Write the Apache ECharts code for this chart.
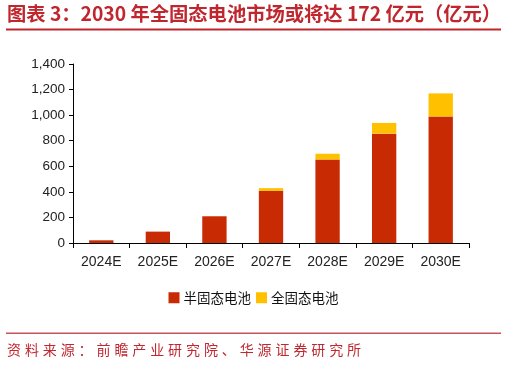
<!DOCTYPE html>
<html><head><meta charset="utf-8">
<script src="https://cdn.jsdelivr.net/npm/echarts@6/dist/echarts.min.js"></script>
<style>html,body{margin:0;padding:0;background:#fff}#c{width:507px;height:366px}</style>
</head><body><div id="c"></div>
<script>
const categories = ['2024E','2025E','2026E','2027E','2028E','2029E','2030E'];
const semiSolid = [21, 89, 209, 408, 653, 855, 990];
const allSolid = [0, 0, 0, 21, 45, 84, 180];
const yTicks = [0, 200, 400, 600, 800, 1000, 1200, 1400];
const titleText = '图表 3：2030 年全固态电池市场或将达 172 亿元（亿元）';
const sourceText = '资料来源：前瞻产业研究院、华源证券研究所';

const chart = echarts.init(document.getElementById('c'), null, {renderer:'canvas'});
const srcChars = sourceText.split('').map((ch, i) => ({
  type: 'text', left: 7 + i * 17.9, top: 343,
  style: { text: ch, fill: '#c0282f', font: '14px "Noto Sans CJK SC"' }
}));
chart.setOption({
  animation: false,
  textStyle: { fontFamily: '"Liberation Sans", Arial, sans-serif' },
  graphic: [
    { type: 'text', left: 7, top: 4, style: { text: titleText, fill: '#c0262d', font: 'bold 19.3px "Noto Sans CJK SC"' } },
    { type: 'rect', shape: { x: 6, y: 28.5, width: 495, height: 2 }, style: { fill: '#c0262d' } },
    { type: 'rect', shape: { x: 6, y: 332.5, width: 495, height: 1.5 }, style: { fill: '#c8545b' } },
    ...srcChars
  ],
  grid: { left: 73, right: 38, top: 64, bottom: 123 },
  legend: {
    data: ['半固态电池', '全固态电池'],
    left: 'center', top: 286,
    itemWidth: 11, itemHeight: 11, itemGap: 5,
    icon: 'rect',
    textStyle: { fontSize: 13.5, color: '#111', fontFamily: '"Noto Sans CJK SC"', padding: [0,0,0,-1] }
  },
  xAxis: {
    type: 'category', data: categories,
    axisLine: { lineStyle: { color: '#000', width: 1 } },
    axisTick: { show: true, length: 5, lineStyle: { color: '#000' } },
    axisLabel: { color: '#222', fontSize: 14, margin: 12 }
  },
  yAxis: {
    type: 'value', min: 0, max: 1400, interval: 200,
    axisLine: { show: true, lineStyle: { color: '#000', width: 1 } },
    axisTick: { show: true, length: 4, lineStyle: { color: '#000' } },
    splitLine: { show: false },
    axisLabel: { color: '#222', fontSize: 13.5, margin: 8,
      formatter: v => yTicks.includes(v) ? v.toLocaleString('en-US') : '' }
  },
  series: [
    { name: '半固态电池', type: 'bar', stack: 't', data: semiSolid, barWidth: '43%',
      itemStyle: { color: '#c82a03' } },
    { name: '全固态电池', type: 'bar', stack: 't', data: allSolid, barWidth: '43%',
      itemStyle: { color: '#ffc000' } }
  ]
});
</script></body></html>
